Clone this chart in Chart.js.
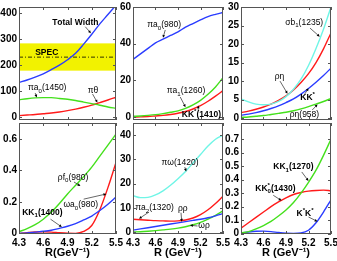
<!DOCTYPE html>
<html>
<head>
<meta charset="utf-8">
<script src="https://cdn.jsdelivr.net/npm/chart.js@4.4.0/dist/chart.umd.min.js"></script>
<style>
  body { margin: 0; background: #fff; width: 337px; height: 261px; overflow: hidden; position: relative; }
  canvas { position: absolute; }
</style>
</head>
<body>
<canvas id="c1"></canvas>
<canvas id="c2"></canvas>
<canvas id="c3"></canvas>
<canvas id="c4"></canvas>
<canvas id="c5"></canvas>
<canvas id="c6"></canvas>
<script>
// shared x values, R in GeV^-1
const R = [4.3, 4.4, 4.5, 4.6, 4.7, 4.8, 4.9, 5.0, 5.1, 5.2, 5.3, 5.4, 5.5];
const xTicks = [4.3, 4.6, 4.9, 5.2, 5.5];

// panel 1
const totalWidth = [133, 142, 153, 166, 182, 199, 220, 245, 280, 318, 358, 394, 430];
const piA0_1450  = [66, 70, 73, 74, 74, 71, 68, 63, 57, 51, 45, 38, 33];
const piTheta    = [5, 7, 9, 12, 15, 19, 24, 30, 37, 45, 55, 65, 76];
const specBand = [178, 283];
const specValue = 230;
const yTicks1 = [0, 100, 200, 300, 400];

// panel 2
const piA0_980   = [31.5, 34.5, 37.5, 40.5, 42.5, 44.5, 46.5, 49, 51, 53, 54.8, 56, 57];
const piA1_1260  = [0.5, 0.7, 1.0, 1.4, 2.0, 2.7, 3.5, 4.8, 6.7, 9.2, 12.5, 16.5, 21.5];
const kKst_1410  = [0, 0.2, 0.4, 0.7, 1.0, 1.5, 2.2, 3.1, 4.5, 6.3, 8.7, 11.5, 14.5];
const yTicks2 = [0, 20, 40, 60];

// panel 3
const sigmaB1    = [5.2, 4.4, 3.8, 3.6, 3.8, 4.5, 5.8, 7.8, 10.5, 14.2, 18.8, 24, 30];
const rhoEta     = [1.5, 1.9, 2.4, 3.0, 3.8, 4.8, 6.0, 7.6, 9.6, 12.0, 15.0, 18.7, 23];
const kKst       = [0.8, 1.1, 1.5, 2.0, 2.6, 3.3, 4.2, 5.2, 6.5, 8.0, 9.7, 11.5, 13.5];
const rhoEta958  = [0.2, 0.3, 0.5, 0.7, 1.0, 1.3, 1.6, 2.0, 2.5, 3.1, 3.8, 4.5, 5.3];
const yTicks3 = [0, 5, 10, 15, 20, 25, 30];

// panel 4
const rhoF0      = [0.01, 0.03, 0.055, 0.09, 0.135, 0.19, 0.25, 0.305, 0.36, 0.42, 0.49, 0.56, 0.63];
const kK1_1400   = [0, 0.003, 0.008, 0.013, 0.02, 0.032, 0.045, 0.062, 0.085, 0.11, 0.145, 0.185, 0.23];
const omegaA0    = [0, 0.005, 0.009, 0.01, 0.008, 0.004, 0.001, 0, 0.012, 0.05, 0.15, 0.29, 0.45];
const yTicks4 = [0, 0.2, 0.4, 0.6];

// panel 5
const piOmega    = [15, 14.2, 14.3, 15.3, 17, 19.3, 22, 25, 28.5, 32, 35.5, 38.3, 40];
const piA2       = [5.3, 5.1, 4.9, 4.7, 4.6, 4.5, 4.6, 5.0, 5.8, 7.2, 9.2, 11.8, 14.8];
const rhoRho     = [0.8, 1.3, 1.8, 2.3, 2.8, 3.3, 3.8, 4.3, 4.8, 5.3, 5.9, 6.7, 7.6];
const omegaRho   = [0.05, 0.15, 0.35, 0.6, 0.9, 1.2, 1.6, 2.2, 3.0, 4.0, 5.3, 6.9, 8.7];
const yTicks5 = [0, 10, 20, 30, 40];

// panel 6
const kK1_1270   = [0.005, 0.015, 0.035, 0.06, 0.09, 0.13, 0.175, 0.23, 0.3, 0.38, 0.47, 0.58, 0.7];
const kK0st      = [0.04, 0.08, 0.12, 0.16, 0.2, 0.235, 0.265, 0.29, 0.305, 0.315, 0.32, 0.322, 0.318];
const kstKst     = [0.005, 0.012, 0.017, 0.018, 0.015, 0.008, 0.003, 0.002, 0.005, 0.025, 0.08, 0.16, 0.25];
const yTicks6 = [0, 0.1, 0.2, 0.3, 0.4, 0.5, 0.6, 0.7];

const BLUE = '#2a3cff', RED = '#ff1a1a', GREEN = '#44e01c', CYAN = '#6ff5e6';

const panels = [
  { id: 'c1', box: [19, 7, 97, 113], y: [-12, 423], ticks: yTicks1,
    series: [[totalWidth, BLUE], [piA0_1450, GREEN], [piTheta, RED]],
    band: true,
    notes: [
      { t: 'Total Width', at: [4.71, 362], bold: true, from: [5.12, 347], to: [5.19, 322] },
      { t: 'SPEC', at: [4.5, 247], bold: true },
      { t: 'πa_0(1450)', at: [4.41, 111], from: [4.5, 92], to: [4.52, 75] },
      { t: 'πθ', at: [5.15, 100], from: [5.21, 88], to: [5.27, 55] }
    ] },
  { id: 'c2', box: [133, 7, 90, 113], y: [-1.5, 60], ticks: yTicks2,
    series: [[piA0_980, BLUE], [piA1_1260, GREEN], [kKst_1410, RED]],
    notes: [
      { t: 'πa_0(980)', at: [4.49, 50.4], from: [4.73, 47.5], to: [4.7, 43.2] },
      { t: 'πa_1(1260)', at: [4.75, 14.4], from: [4.93, 11], to: [5.0, 5.5] },
      { t: 'KK^*(1410)', at: [4.95, 1.2], bold: true, from: [5.17, 3.6], to: [5.17, 6.4] }
    ] },
  { id: 'c3', box: [241, 7, 90, 113], y: [-0.5, 30], ticks: yTicks3,
    series: [[sigmaB1, CYAN], [rhoEta, RED], [kKst, BLUE], [rhoEta958, GREEN]],
    notes: [
      { t: 'σb_1(1235)', at: [4.89, 25.8], from: [5.22, 24.3], to: [5.35, 22] },
      { t: 'ρη', at: [4.75, 11.2], from: [4.82, 10], to: [4.92, 6.6] },
      { t: 'KK^*', at: [5.09, 5.5], bold: true, from: [5.15, 6.5], to: [5.2, 8.1] },
      { t: 'ρη(958)', at: [4.95, 0.9], from: [5.25, 2.2], to: [5.32, 3.7] }
    ] },
  { id: 'c4', box: [19, 123, 97, 111], y: [-0.004, 0.7], ticks: yTicks4, bottom: 'R(GeV⁻¹)',
    series: [[rhoF0, GREEN], [kK1_1400, BLUE], [omegaA0, RED]],
    notes: [
      { t: 'ρf_0(980)', at: [4.78, 0.354], from: [4.98, 0.326], to: [5.06, 0.3] },
      { t: 'ωa_0(980)', at: [4.85, 0.18], from: [5.1, 0.217], to: [5.38, 0.25] },
      { t: 'KK_1(1400)', at: [4.34, 0.133], bold: true, from: [4.69, 0.09], to: [4.83, 0.04] }
    ] },
  { id: 'c5', box: [133, 123, 90, 111], y: [-0.8, 45], ticks: yTicks5, bottom: 'R (GeV⁻¹)',
    series: [[piOmega, CYAN], [piA2, RED], [rhoRho, BLUE], [omegaRho, GREEN]],
    notes: [
      { t: 'πω(1420)', at: [4.68, 28.6], from: [4.99, 26.8], to: [5.01, 25] },
      { t: 'πa_2(1320)', at: [4.33, 10], from: [4.51, 8.2], to: [4.38, 5.5] },
      { t: 'ρρ', at: [4.9, 9.8], from: [4.94, 8], to: [4.95, 4.3] },
      { t: 'ωρ', at: [5.17, 2.5], from: [5.16, 2.5], to: [5.06, 2.8] }
    ] },
  { id: 'c6', box: [241, 123, 90, 111], y: [-0.003, 0.82], ticks: yTicks6, bottom: 'R (GeV⁻¹)',
    series: [[kK1_1270, GREEN], [kK0st, RED], [kstKst, BLUE]],
    notes: [
      { t: 'KK_1(1270)', at: [4.73, 0.494], bold: true, from: [5.11, 0.457], to: [5.2, 0.39] },
      { t: 'KK_0^*(1430)', at: [4.49, 0.334], bold: true, from: [4.73, 0.284], to: [4.84, 0.245] },
      { t: 'K^*K^*', at: [5.04, 0.148], bold: true, from: [5.2, 0.123], to: [5.32, 0.09] }
    ] }
];

// text with _x subscripts and ^x superscripts
function drawRich(ctx, str, x, y, size, bold) {
  let cx = x, subX = null;
  ctx.textBaseline = 'middle';
  ctx.textAlign = 'left';
  for (let i = 0; i < str.length; i++) {
    let ch = str[i], mode = 0;
    if ((ch === '_' || ch === '^') && i + 1 < str.length) { mode = ch === '_' ? 1 : 2; ch = str[++i]; }
    const fs = mode ? size * 0.72 : size;
    ctx.font = (bold ? 'bold ' : '') + fs + 'px "Liberation Sans"';
    const w = ctx.measureText(ch).width;
    const dy = mode === 1 ? size * 0.38 : mode === 2 ? -size * 0.38 : 0;
    if (mode === 2 && subX !== null) {
      ctx.fillText(ch, subX, y + dy);
      cx = Math.max(cx, subX + w);
      subX = null;
      continue;
    }
    ctx.fillText(ch, cx, y + dy);
    subX = mode === 1 ? cx : null;
    cx += w;
  }
}

function arrow(ctx, x0, y0, x1, y1) {
  const a = Math.atan2(y1 - y0, x1 - x0), L = 3.2;
  ctx.beginPath();
  ctx.moveTo(x0, y0);
  ctx.lineTo(x1 - Math.cos(a) * L * 0.8, y1 - Math.sin(a) * L * 0.8);
  ctx.stroke();
  ctx.beginPath();
  ctx.moveTo(x1, y1);
  ctx.lineTo(x1 - L * Math.cos(a - 0.45), y1 - L * Math.sin(a - 0.45));
  ctx.lineTo(x1 - L * Math.cos(a + 0.45), y1 - L * Math.sin(a + 0.45));
  ctx.closePath();
  ctx.fill();
}

const decor = {
  id: 'decor',
  beforeDatasetsDraw(chart, args, opts) {
    if (!opts.band) return;
    const { ctx, chartArea: a, scales: { y } } = chart;
    ctx.save();
    ctx.fillStyle = '#f2f200';
    const t = y.getPixelForValue(specBand[1]), b = y.getPixelForValue(specBand[0]);
    ctx.fillRect(a.left, t, a.right - a.left, b - t);
    ctx.strokeStyle = '#000';
    ctx.lineWidth = 0.8;
    ctx.setLineDash([4, 2, 1, 2]);
    const ys = y.getPixelForValue(specValue);
    ctx.beginPath();
    ctx.moveTo(a.left, ys);
    ctx.lineTo(a.right, ys);
    ctx.stroke();
    ctx.restore();
  },
  afterDraw(chart, args, opts) {
    const { ctx, chartArea: a, scales: { x, y } } = chart;
    ctx.save();
    ctx.strokeStyle = '#555';
    ctx.lineWidth = 1;
    ctx.strokeRect(a.left + 0.5, a.top + 0.5, a.right - a.left - 1, a.bottom - a.top - 1);
    ctx.beginPath();
    xTicks.forEach(v => {
      const px = Math.round(x.getPixelForValue(v)) + 0.5;
      ctx.moveTo(px, a.bottom); ctx.lineTo(px, a.bottom - 3);
      ctx.moveTo(px, a.top); ctx.lineTo(px, a.top + 3);
    });
    opts.ticks.forEach(v => {
      const py = Math.round(y.getPixelForValue(v)) + 0.5;
      ctx.moveTo(a.left, py); ctx.lineTo(a.left + 3, py);
      ctx.moveTo(a.right, py); ctx.lineTo(a.right - 3, py);
    });
    ctx.stroke();
    ctx.fillStyle = '#000';
    ctx.strokeStyle = '#000';
    ctx.lineWidth = 0.6;
    opts.notes.forEach(n => {
      drawRich(ctx, n.t, x.getPixelForValue(n.at[0]), y.getPixelForValue(n.at[1]), 8.5, !!n.bold);
      if (n.from) arrow(ctx, x.getPixelForValue(n.from[0]), y.getPixelForValue(n.from[1]),
                        x.getPixelForValue(n.to[0]), y.getPixelForValue(n.to[1]));
    });
    ctx.restore();
  }
};

const YW = 20, PAD = 8, RP = 10, XH = 27;

panels.forEach(p => {
  const [l, t, w, h] = p.box;
  const cv = document.getElementById(p.id);
  cv.width = YW + w + RP;
  cv.height = PAD + h + (p.bottom ? XH : PAD);
  cv.style.left = (l - YW) + 'px';
  cv.style.top = (t - PAD) + 'px';

  new Chart(cv, {
    type: 'line',
    data: {
      datasets: p.series.map(([vals, col]) => ({
        data: vals.map((v, i) => ({ x: R[i], y: v })),
        borderColor: col,
        borderWidth: 1.4,
        pointRadius: 0,
        cubicInterpolationMode: 'monotone',
        clip: 0
      }))
    },
    options: {
      responsive: false,
      animation: false,
      events: [],
      layout: { padding: { left: 0, top: PAD, right: RP, bottom: p.bottom ? 0 : PAD } },
      plugins: {
        legend: { display: false },
        tooltip: { enabled: false },
        decor: { band: !!p.band, ticks: p.ticks, notes: p.notes }
      },
      scales: {
        x: {
          type: 'linear', min: 4.3, max: 5.5,
          grid: { display: false, drawTicks: false },
          border: { display: false },
          afterBuildTicks: s => { s.ticks = xTicks.map(v => ({ value: v })); },
          afterFit: s => { s.height = p.bottom ? XH : 0; },
          ticks: {
            display: !!p.bottom, padding: 3, color: '#000', maxRotation: 0,
            font: { family: 'Liberation Sans', size: 10, weight: 'bold' },
            callback: v => v.toFixed(1)
          },
          title: {
            display: !!p.bottom, text: p.bottom || '', color: '#000',
            padding: { top: 0, bottom: 1 },
            font: { family: 'Liberation Sans', size: 11, weight: 'bold' }
          }
        },
        y: {
          min: p.y[0], max: p.y[1],
          grid: { display: false, drawTicks: false },
          border: { display: false },
          afterBuildTicks: s => { s.ticks = p.ticks.map(v => ({ value: v })); },
          afterFit: s => { s.width = YW; },
          ticks: {
            padding: 2, color: '#000',
            font: { family: 'Liberation Sans', size: 10, weight: 'bold' },
            callback: v => String(Math.round(v * 10) / 10)
          }
        }
      }
    },
    plugins: [decor]
  });
});
</script>
</body>
</html>
